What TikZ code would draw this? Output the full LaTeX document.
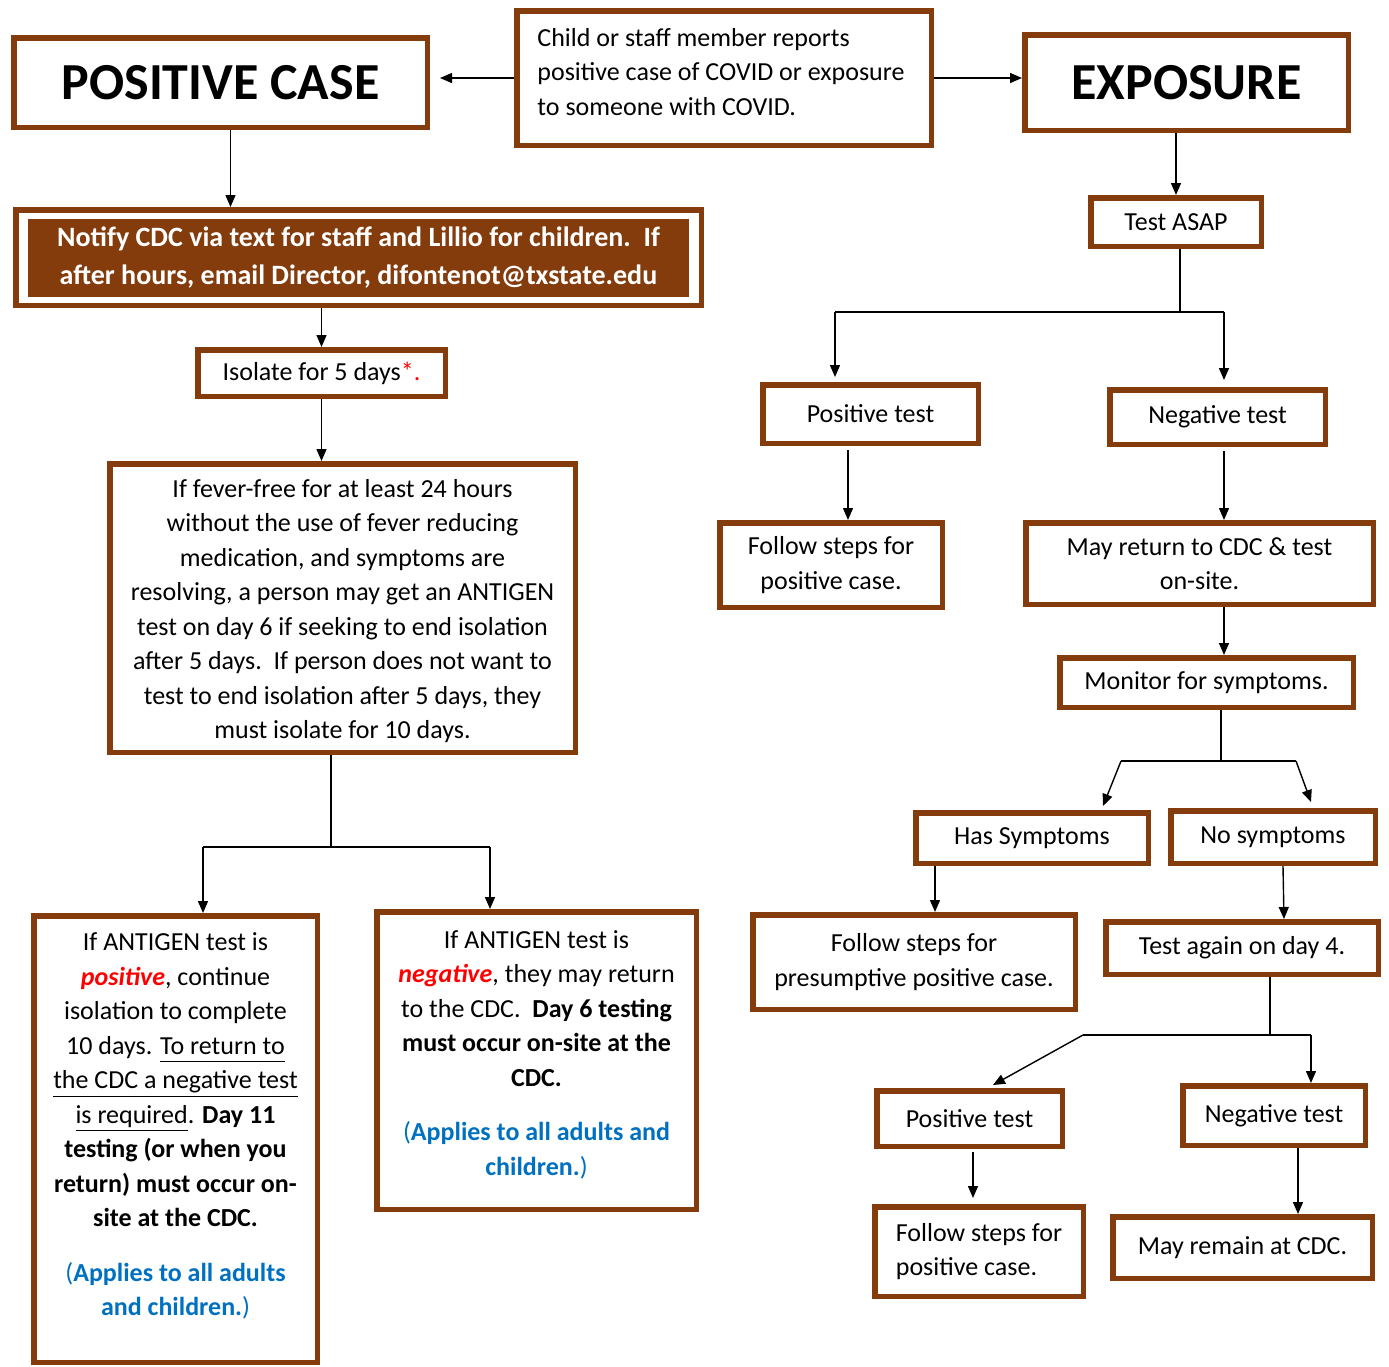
\documentclass[tikz,border=0pt]{standalone}
\usepackage{fontspec}
\setmainfont{Carlito}
\usetikzlibrary{positioning, arrows.meta}
\definecolor{cdcbrown}{HTML}{843C0C}
\definecolor{cdcblue}{HTML}{0070C0}
\newcommand{\hotword}[1]{\textcolor{red}{\textbf{\textit{#1}}}}
\newcommand{\applies}[1]{\textcolor{cdcblue}{#1}}
\newcommand{\ulined}[1]{\underline{\smash{#1}\vphantom{g}}}

\tikzset{
  pbox/.style={draw=cdcbrown, line width=2.75pt, inner sep=2pt, align=center,
    font=\fontsize{13}{17.25}\selectfont},
  frame/.style={draw=cdcbrown, line width=2.75pt, inner sep=0pt},
  bodytext/.style={align=center, inner sep=0pt, font=\fontsize{13}{17.25}\selectfont},
  headline/.style={pbox, font=\fontsize{26}{30}\selectfont\bfseries},
  link/.style={->, line width=0.7pt},
}

\begin{document}
\begin{tikzpicture}[x=0.5pt, y=-0.5pt, >={Triangle[length=6pt,width=5pt]}]
  \useasboundingbox (0,0) rectangle (1389,1367);

  % top row
  \node[frame, minimum width=207.25pt, minimum height=67.25pt] (report) at (724,78) {};
  \node[bodytext, align=left] (reporttext) at (721,72)
    {Child or staff member reports\\positive case of COVID or exposure\\to someone with COVID.};
  \node[headline, minimum width=206.75pt, minimum height=44.75pt] (poscase) at (220.5,82.5) {POSITIVE CASE};
  \node[headline, minimum width=161.75pt, minimum height=47.75pt] (exposure) at (1186.5,82.5) {EXPOSURE};
  \draw[link, shorten >=5pt] (report.west) -- (report.west -| poscase.east);
  \draw[link] (report.east) -- (report.east -| exposure.west);

  % positive case branch
  \node[frame, minimum width=342.75pt, minimum height=47.75pt] (notifyframe) at (358.5,257.5) {};
  \node[fill=cdcbrown, text=white, align=center, minimum width=330.5pt, minimum height=39pt,
    font=\fontsize{14}{19}\selectfont\bfseries] (notify) at (358.5,258)
    {Notify CDC via text for staff and Lillio for children.\ \ If\\after hours, email Director, difontenot@txstate.edu};
  \node[pbox, minimum width=123.75pt, minimum height=23.25pt] (isolate) at (321.5,373)
    {Isolate for 5 days\textcolor{red}{*.}};
  \node[frame, minimum width=232.75pt, minimum height=144.25pt] (fever) at (342.5,608) {};
  \node[bodytext] (fevertext) at (342.5,611)
    {If fever-free for at least 24 hours\\without the use of fever reducing\\medication, and symptoms are\\
     resolving, a person may get an ANTIGEN\\test on day 6 if seeking to end isolation\\
     after 5 days.\ \ If person does not want to\\test to end isolation after 5 days, they\\must isolate for 10 days.};
  \node[frame, minimum width=141.75pt, minimum height=223.25pt] (antipos) at (175.5,1139) {};
  \node[bodytext] (antipostext) at (175.5,1126)
    {If ANTIGEN test is\\\hotword{positive}, continue\\isolation to complete\\
     10 days. \ulined{To return to}\\\ulined{the CDC a negative test}\\
     \ulined{is required}. \textbf{Day 11}\\\textbf{testing (or when you}\\
     \textbf{return) must occur on-}\\\textbf{site at the CDC.}\\[10pt]
     \applies{(\textbf{Applies to all adults}}\\\applies{\textbf{and children.})}};
  \node[frame, minimum width=159.75pt, minimum height=148.75pt] (antineg) at (536.5,1060.5) {};
  \node[bodytext] (antinegtext) at (536.5,1054.5)
    {If ANTIGEN test is\\\hotword{negative}, they may return\\
     to the CDC.\ \ \textbf{Day 6 testing}\\\textbf{must occur on-site at the}\\\textbf{CDC.}\\[10pt]
     \applies{(\textbf{Applies to all adults and}}\\\applies{\textbf{children.})}};

  \draw[link] ([xshift=5pt]poscase.south) -- ([xshift=5pt]poscase.south |- notifyframe.north);
  \draw[link] (notifyframe.south -| isolate.north) -- (isolate.north);
  \draw[link] (isolate.south) -- (isolate.south |- fever.north);
  \coordinate (fmid) at (331,847);
  \coordinate (fleft) at (203,847);
  \coordinate (fright) at (490,847);
  \draw[line width=0.7pt] (fever.south -| fmid) -- (fmid);
  \draw[line width=0.7pt] (fleft) -- (fright);
  \draw[link] (fleft) -- (fleft |- antipos.north);
  \draw[link] (fright) -- (fright |- antineg.north);

  % exposure branch
  \node[pbox, minimum width=85.25pt, minimum height=24.25pt] (testasap) at (1176,222) {Test ASAP};
  \node[pbox, minimum width=107.75pt, minimum height=29.25pt] (postest) at (870.5,414) {Positive test};
  \node[pbox, minimum width=107.75pt, minimum height=27.25pt] (negtest) at (1217.5,417) {Negative test};
  \node[pbox, minimum width=111.25pt, minimum height=42.25pt] (follow) at (831,565)
    {Follow steps for\\positive case.};
  \node[pbox, minimum width=173.75pt, minimum height=40.75pt] (mayreturn) at (1199.5,563.5)
    {May return to CDC \& test\\on-site.};
  \node[pbox, minimum width=146.75pt, minimum height=24.75pt] (monitor) at (1206.5,682.5)
    {Monitor for symptoms.};
  \node[pbox, minimum width=116.25pt, minimum height=25.25pt] (hassym) at (1032,838) {Has Symptoms};
  \node[pbox, minimum width=102.25pt, minimum height=26.25pt] (nosym) at (1273,837) {No symptoms};
  \node[pbox, minimum width=161.25pt, minimum height=47.25pt] (presump) at (914,962)
    {Follow steps for\\presumptive positive case.};
  \node[pbox, minimum width=136.25pt, minimum height=26.25pt] (again) at (1242,948)
    {Test again on day 4.};
  \node[pbox, minimum width=92.75pt, minimum height=27.75pt] (postestb) at (969.5,1118.5) {Positive test};
  \node[pbox, minimum width=91.25pt, minimum height=29.75pt] (negtestb) at (1274,1115.5) {Negative test};
  \node[pbox, align=left, minimum width=104.25pt, minimum height=44.75pt] (followb) at (979,1251.5)
    {Follow steps for\\positive case.};
  \node[pbox, minimum width=129.75pt, minimum height=30.75pt] (remain) at (1242.5,1247.5)
    {May remain at CDC.};

  \draw[link] (exposure.south -| testasap.north) -- (testasap.north);
  \coordinate (tmid) at (1180,312);
  \coordinate (tleft) at (835,312);
  \coordinate (tright) at (1224,312);
  \draw[line width=0.7pt] (testasap.south -| tmid) -- (tmid);
  \draw[line width=0.7pt] (tleft) -- (tright);
  \draw[link, shorten >=2.5pt] (tleft) -- (tleft |- postest.north);
  \draw[link, shorten >=3.5pt] (tright) -- (tright |- negtest.north);
  \draw[link, shorten <=2pt] ([xshift=-11.25pt]postest.south) -- ([xshift=-11.25pt]postest.south |- follow.north);
  \draw[link, shorten <=2pt] ([xshift=3.25pt]negtest.south) -- ([xshift=3.25pt]negtest.south |- mayreturn.north);
  \draw[link] ([xshift=12.25pt]mayreturn.south) -- ([xshift=12.25pt]mayreturn.south |- monitor.north);
  \coordinate (mmid) at (1221,761);
  \coordinate (mleft) at (1121,761);
  \coordinate (mright) at (1296,761);
  \draw[line width=0.7pt] (monitor.south -| mmid) -- (mmid);
  \draw[line width=0.7pt] (mleft) -- (mright);
  \draw[link] (mleft) -- ([xshift=35.5pt,yshift=2pt]hassym.north);
  \draw[link] (mright) -- ([xshift=19pt,yshift=3pt]nosym.north);
  \draw[link] ([xshift=-48.5pt]hassym.south) -- ([xshift=-48.5pt]hassym.south |- presump.north);
  \draw[link] ([xshift=5pt]nosym.south) -- ([xshift=5.5pt]nosym.south |- again.north);
  \coordinate (amid) at (1270,1035);
  \coordinate (aleft) at (1083,1035);
  \coordinate (aright) at (1311,1035);
  \draw[line width=0.7pt] (again.south -| amid) -- (amid);
  \draw[line width=0.7pt] (aleft) -- (aright);
  \draw[link] (aleft) -- ([xshift=11.75pt,yshift=1.5pt]postestb.north);
  \draw[link] (aright) -- (aright |- negtestb.north);
  \draw[link, shorten <=1.5pt, shorten >=3pt] ([xshift=1.75pt]postestb.south) -- ([xshift=1.75pt]postestb.south |- followb.north);
  \draw[link] ([xshift=12pt]negtestb.south) -- ([xshift=12pt]negtestb.south |- remain.north);
\end{tikzpicture}
\end{document}
